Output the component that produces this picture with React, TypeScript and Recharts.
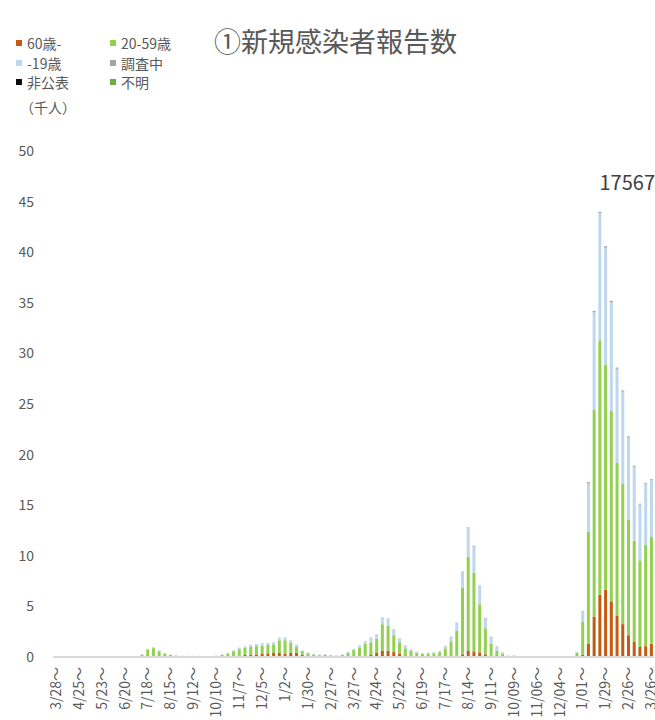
import React from "react";
import { BarChart, Bar, XAxis, YAxis } from "recharts";

// weekly report, 3/28 (2020) .. 3/26 (2022)
const weeks = [
  "3/28～", "4/4～", "4/11～", "4/18～", "4/25～", "5/2～", "5/9～", "5/16～", "5/23～", "5/30～",
  "6/6～", "6/13～", "6/20～", "6/27～", "7/4～", "7/11～", "7/18～", "7/25～", "8/1～", "8/8～",
  "8/15～", "8/22～", "8/29～", "9/5～", "9/12～", "9/19～", "9/26～", "10/3～", "10/10～", "10/17～",
  "10/24～", "10/31～", "11/7～", "11/14～", "11/21～", "11/28～", "12/5～", "12/12～", "12/19～", "12/26～",
  "1/2～", "1/9～", "1/16～", "1/23～", "1/30～", "2/6～", "2/13～", "2/20～", "2/27～", "3/6～",
  "3/13～", "3/20～", "3/27～", "4/3～", "4/10～", "4/17～", "4/24～", "5/1～", "5/8～", "5/15～",
  "5/22～", "5/29～", "6/5～", "6/12～", "6/19～", "6/26～", "7/3～", "7/10～", "7/17～", "7/24～",
  "7/31～", "8/7～", "8/14～", "8/21～", "8/28～", "9/4～", "9/11～", "9/18～", "9/25～", "10/02～",
  "10/09～", "10/16～", "10/23～", "10/30～", "11/06～", "11/13～", "11/20～", "11/27～", "12/04～", "12/11～",
  "12/18～", "12/25～", "1/01～", "1/08～", "1/15～", "1/22～", "1/29～", "2/05～", "2/12～", "2/19～",
  "2/26～", "3/05～", "3/12～", "3/19～", "3/26～",
];

// values in thousands of people
const age60plus = [
  0.01, 0.01, 0.01, 0.01, 0, 0, 0, 0, 0, 0,
  0, 0, 0, 0, 0.005, 0.01, 0.02, 0.04, 0.1, 0.08,
  0.04, 0.03, 0.02, 0.02, 0.02, 0.02, 0.01, 0.01, 0.02, 0.03,
  0.05, 0.08, 0.13, 0.2, 0.23, 0.26, 0.3, 0.36, 0.4, 0.4,
  0.33, 0.4, 0.4, 0.23, 0.15, 0.08, 0.05, 0.06, 0.04, 0.02,
  0.03, 0.05, 0.08, 0.1, 0.13, 0.2, 0.4, 0.6, 0.63, 0.49,
  0.36, 0.16, 0.1, 0.06, 0.04, 0.03, 0.03, 0.03, 0.06, 0.07,
  0.13, 0.26, 0.59, 0.56, 0.46, 0.26, 0.13, 0.06, 0.03, 0.01,
  0.01, 0.005, 0.003, 0.002, 0.002, 0.002, 0.002, 0.002, 0.002, 0.002,
  0.002, 0.03, 0.23, 1.32, 4.0, 6.16, 6.65, 5.5, 4.1, 3.25,
  2.15, 1.48, 0.99, 1.07, 1.32,
];

const age20to59 = [
  0.04, 0.02, 0.03, 0.02, 0.01, 0.01, 0.01, 0.01, 0.01, 0.01,
  0.01, 0.01, 0.01, 0.02, 0.04, 0.22, 0.71, 0.83, 0.47, 0.26,
  0.17, 0.1, 0.08, 0.07, 0.07, 0.07, 0.05, 0.05, 0.09, 0.19,
  0.3, 0.5, 0.64, 0.7, 0.79, 0.81, 0.81, 0.84, 0.84, 1.25,
  1.32, 1.0, 0.62, 0.35, 0.23, 0.18, 0.14, 0.18, 0.13, 0.1,
  0.18, 0.37, 0.6, 0.85, 1.16, 1.25, 1.4, 2.64, 2.45, 1.67,
  1.09, 0.7, 0.5, 0.37, 0.26, 0.32, 0.34, 0.44, 0.8, 1.42,
  2.45, 6.6, 9.3, 7.78, 4.75, 2.58, 1.2, 0.56, 0.28, 0.1,
  0.1, 0.04, 0.025, 0.012, 0.012, 0.012, 0.012, 0.012, 0.012, 0.012,
  0.012, 0.38, 3.23, 11.03, 20.4, 25.14, 22.25, 18.8, 15.1, 13.85,
  11.45, 10.0, 8.56, 10.03, 10.54,
];

const ageUnder19 = [
  0, 0, 0, 0, 0, 0, 0, 0, 0, 0,
  0, 0, 0, 0, 0.005, 0.02, 0.05, 0.06, 0.06, 0.03,
  0.02, 0.01, 0.01, 0.01, 0.01, 0.01, 0.01, 0.01, 0.01, 0.02,
  0.04, 0.06, 0.12, 0.13, 0.16, 0.2, 0.23, 0.16, 0.2, 0.23,
  0.26, 0.23, 0.16, 0.07, 0.04, 0.03, 0.02, 0.03, 0.02, 0.02,
  0.04, 0.06, 0.1, 0.17, 0.23, 0.46, 0.4, 0.6, 0.66, 0.53,
  0.36, 0.26, 0.14, 0.08, 0.05, 0.07, 0.08, 0.1, 0.19, 0.46,
  0.76, 1.5, 2.83, 2.58, 1.77, 0.95, 0.62, 0.39, 0.12, 0.03,
  0.03, 0.015, 0.01, 0.005, 0.005, 0.005, 0.005, 0.005, 0.005, 0.005,
  0.005, 0.06, 1.04, 4.85, 9.65, 12.55, 11.55, 10.75, 9.28, 9.13,
  8.1, 7.32, 5.52, 6.02, 5.627,
];

const underInvestigation = [
  0.005, 0.005, 0.005, 0.005, 0.005, 0.005, 0.005, 0.005, 0.005, 0.005,
  0.005, 0.005, 0.005, 0.005, 0.005, 0.01, 0.02, 0.02, 0.01, 0.01,
  0.01, 0.01, 0.01, 0.01, 0.01, 0.01, 0.005, 0.005, 0.01, 0.01,
  0.01, 0.01, 0.02, 0.02, 0.02, 0.02, 0.02, 0.02, 0.02, 0.02,
  0.02, 0.02, 0.02, 0.01, 0.01, 0.01, 0.01, 0.01, 0.01, 0.01,
  0.01, 0.02, 0.02, 0.03, 0.03, 0.03, 0.04, 0.05, 0.05, 0.04,
  0.03, 0.03, 0.02, 0.02, 0.01, 0.01, 0.01, 0.02, 0.05, 0.05,
  0.05, 0.07, 0.08, 0.08, 0.07, 0.06, 0.05, 0.04, 0.03, 0.01,
  0.02, 0.01, 0.005, 0.005, 0.005, 0.005, 0.005, 0.005, 0.005, 0.005,
  0.005, 0.02, 0.05, 0.1, 0.15, 0.15, 0.15, 0.15, 0.12, 0.12,
  0.1, 0.1, 0.08, 0.08, 0.08,
];

const undisclosed = [
  0, 0, 0, 0, 0, 0, 0, 0, 0, 0,
  0, 0, 0, 0, 0, 0, 0, 0, 0, 0,
  0, 0, 0, 0, 0, 0, 0, 0, 0, 0,
  0, 0, 0, 0, 0, 0, 0, 0, 0, 0,
  0, 0, 0, 0, 0, 0, 0, 0, 0, 0,
  0, 0, 0, 0, 0, 0, 0, 0, 0, 0,
  0, 0, 0, 0, 0, 0, 0, 0, 0, 0,
  0, 0, 0, 0, 0, 0, 0, 0, 0, 0,
  0, 0, 0, 0, 0, 0, 0, 0, 0, 0,
  0, 0, 0, 0, 0, 0, 0, 0, 0, 0,
  0, 0, 0, 0, 0,
];

const unknown = [
  0, 0, 0, 0, 0, 0, 0, 0, 0, 0,
  0, 0, 0, 0, 0, 0, 0, 0, 0, 0,
  0, 0, 0, 0, 0, 0, 0, 0, 0, 0,
  0, 0, 0, 0, 0, 0, 0, 0, 0, 0,
  0, 0, 0, 0, 0, 0, 0, 0, 0, 0,
  0, 0, 0, 0, 0, 0, 0, 0, 0, 0,
  0, 0, 0, 0, 0, 0, 0, 0, 0, 0,
  0, 0, 0, 0, 0, 0, 0, 0, 0, 0,
  0, 0, 0, 0, 0, 0, 0, 0, 0, 0,
  0, 0, 0, 0, 0, 0, 0, 0, 0, 0,
  0, 0, 0, 0, 0,
];

const yTicks = [0, 5, 10, 15, 20, 25, 30, 35, 40, 45, 50];

const SERIES = [
  { key: "old", name: "60歳-", color: "#C55A11" },
  { key: "mid", name: "20-59歳", color: "#92D050" },
  { key: "young", name: "-19歳", color: "#BDD7EE" },
  { key: "inv", name: "調査中", color: "#A5A5A5" },
  { key: "undis", name: "非公表", color: "#0D0D0D" },
  { key: "unk", name: "不明", color: "#70AD47" },
];

const data = weeks.map((week, i) => ({
  week,
  old: age60plus[i],
  mid: age20to59[i],
  young: ageUnder19[i],
  inv: underInvestigation[i],
  undis: undisclosed[i],
  unk: unknown[i],
}));

const last = data.length - 1;
const latestTotal = Math.round(
  (age60plus[last] + age20to59[last] + ageUnder19[last] + underInvestigation[last] + undisclosed[last] + unknown[last]) * 1000
);

const TEXT = "#595959";
const FONT = '"Noto Sans CJK JP", "Noto Sans", sans-serif';

const WeekTick = (props: any) => {
  const { x, y, payload } = props;
  const tx = x + 5;
  return (
    <text
      x={tx}
      y={y}
      transform={`rotate(-90, ${tx}, ${y})`}
      textAnchor="end"
      fill={TEXT}
      fontSize={14}
    >
      {payload.value}
    </text>
  );
};

// legend: two columns, three rows
const legendCols = [16, 110];
const legendRows = [43, 62.5, 82];

export default function App() {
  return (
    <div
      style={{
        position: "relative",
        width: 655,
        height: 720,
        overflow: "hidden",
        background: "#fff",
        fontFamily: FONT,
      }}
    >
      <style>{"body{margin:0}"}</style>

      <div style={{ position: "absolute", left: 214, top: 23, fontSize: 27, color: TEXT, lineHeight: "36px", whiteSpace: "nowrap" }}>
        ①新規感染者報告数
      </div>

      {SERIES.map((s, i) => (
        <div
          key={s.key}
          style={{
            position: "absolute",
            left: legendCols[i % 2],
            top: legendRows[Math.floor(i / 2)] - 10,
            height: 20,
            display: "flex",
            alignItems: "center",
            fontSize: 14,
            color: TEXT,
            whiteSpace: "nowrap",
          }}
        >
          <span style={{ display: "inline-block", width: 6, height: 6, background: s.color, marginRight: 5 }} />
          {s.name}
        </div>
      ))}

      <div style={{ position: "absolute", left: 20, top: 97, fontSize: 14, color: TEXT, lineHeight: "20px" }}>
        （千人）
      </div>

      <div
        style={{
          position: "absolute",
          right: 0,
          top: 168,
          fontSize: 20,
          color: "#404040",
          lineHeight: "28px",
        }}
      >
        {latestTotal}
      </div>

      <div style={{ position: "absolute", left: 0, top: 0 }}>
        <BarChart
          width={655}
          height={720}
          data={data}
          margin={{ top: 151, right: 1, left: 0, bottom: 0 }}
          barCategoryGap="28%"
        >
          <XAxis
            dataKey="week"
            interval={3}
            height={63}
            tickLine={false}
            tickSize={0}
            tickMargin={10}
            axisLine={{ stroke: "#D9D9D9", strokeWidth: 2 }}
            tick={<WeekTick />}
          />
          <YAxis
            width={53}
            domain={[0, 50]}
            ticks={yTicks}
            axisLine={false}
            tickLine={false}
            tickSize={0}
            tickMargin={19}
            tick={{ fill: TEXT, fontSize: 14 }}
          />
          {SERIES.map((s) => (
            <Bar
              key={s.key}
              dataKey={s.key}
              name={s.name}
              stackId="a"
              fill={s.color}
              isAnimationActive={false}
            />
          ))}
        </BarChart>
      </div>
    </div>
  );
}
